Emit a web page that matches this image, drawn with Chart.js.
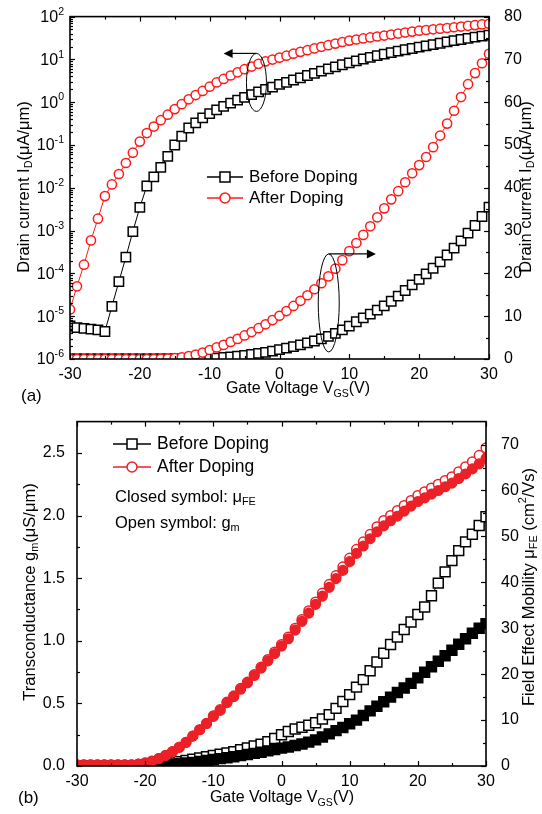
<!DOCTYPE html>
<html>
<head>
<meta charset="utf-8">
<script src="https://cdn.jsdelivr.net/npm/chart.js@4/dist/chart.umd.min.js"></script>
<style>
  body { margin: 0; background: #fff; overflow: hidden; }
  #wrap { position: relative; width: 542px; height: 814px; }
  .box { position: absolute; left: 0; width: 542px; }
</style>
</head>
<body>
<div id="wrap">
  <div class="box" style="top:0;height:405px"><canvas id="chartA"></canvas></div>
  <div class="box" style="top:405px;height:409px"><canvas id="chartB"></canvas></div>
</div>
<script>
// ── DATA ──
const volts = [-30,-29,-28,-27,-26,-25,-24,-23,-22,-21,-20,-19,-18,-17,-16,-15,-14,-13,-12,-11,-10,
  -9,-8,-7,-6,-5,-4,-3,-2,-1,0,1,2,3,4,5,6,7,8,9,10,11,12,13,14,15,16,17,18,19,20,
  21,22,23,24,25,26,27,28,29,30];

// (a) drain current, log scale (µA/µm)
const beforeLog = [5.9e-6,5.4e-6,5.2e-6,5.0e-6,4.8e-6,4.4e-6,1.7e-5,6.4e-5,2.4e-4,9.5e-4,3.5e-3,
  0.011,0.018,0.03,0.054,0.1,0.16,0.25,0.33,0.43,0.54,
  0.66,0.8,0.95,1.12,1.3,1.5,1.75,2.0,2.25,2.6,
  2.9,3.3,3.7,4.2,4.7,5.3,6.0,6.7,7.5,8.3,
  9.2,10.2,11.2,12.2,13.3,14.4,15.6,16.8,18.0,19.3,
  20.7,22.2,23.8,25.6,27.4,29.2,31.0,33.0,35.0,37.0];
const afterLog = [1.44e-5,5e-5,1.6e-4,5.9e-4,1.9e-3,6.4e-3,0.012,0.021,0.038,0.066,0.12,
  0.19,0.27,0.38,0.51,0.69,0.9,1.17,1.47,1.83,2.3,
  2.9,3.5,4.2,5.0,5.9,6.8,7.9,9.0,9.9,11.0,
  12.2,13.6,15.0,16.4,18.0,19.7,21.5,23.4,25.5,27.5,
  29.2,30.9,32.6,34.3,36.0,38.1,40.2,42.4,44.6,46.8,
  48.6,50.4,52.2,54.2,56.4,58.6,60.9,63.3,65.6,68.0];
// (a) drain current, linear scale (µA/µm)
const beforeLin = [0,0,0,0,0,0,0,0,0,0,0,
  0,0,0,0,0,0,0,0,0.05,0.1,
  0.2,0.35,0.5,0.65,0.85,1.05,1.3,1.55,1.85,2.2,
  2.55,2.9,3.3,3.75,4.2,4.7,5.3,6.0,6.8,7.7,
  8.7,9.6,10.5,11.4,12.4,13.5,14.7,16.0,17.3,18.6,
  19.9,21.2,22.7,24.3,25.9,27.6,29.4,31.2,33.3,35.5];
const afterLin = [0,0,0,0,0,0,0,0,0,0,0,
  0,0,0.05,0.1,0.2,0.4,0.7,1.05,1.5,2.1,
  2.7,3.3,4.0,4.7,5.5,6.3,7.2,8.1,9.1,10.1,
  11.2,12.4,13.6,14.9,16.3,17.7,19.3,21.1,23.1,25.2,
  27.1,29.0,31.0,33.1,35.2,37.3,39.2,41.3,43.4,45.3,
  47.2,49.5,52.2,55.0,58.0,61.2,64.2,66.8,69.1,71.3];

// (b) transconductance gm (µS/µm), open symbols
const beforeGm = [0,0,0,0,0,0,0,0,0,0,0,
  0.003,0.008,0.015,0.025,0.035,0.045,0.055,0.065,0.075,0.085,
  0.095,0.105,0.115,0.13,0.145,0.16,0.175,0.195,0.22,0.25,
  0.275,0.295,0.31,0.325,0.345,0.375,0.41,0.46,0.515,0.57,
  0.63,0.69,0.76,0.83,0.90,0.97,1.03,1.09,1.15,1.21,
  1.27,1.36,1.46,1.55,1.64,1.72,1.79,1.85,1.92,1.99];
const afterGm = [0.01,0.01,0.01,0.01,0.01,0.01,0.01,0.01,0.01,0.015,0.025,
  0.04,0.06,0.085,0.115,0.15,0.19,0.24,0.29,0.34,0.40,
  0.45,0.51,0.56,0.62,0.67,0.73,0.79,0.85,0.91,0.97,
  1.03,1.10,1.17,1.24,1.31,1.38,1.45,1.52,1.59,1.66,
  1.73,1.79,1.85,1.91,1.96,2.00,2.04,2.08,2.12,2.16,
  2.19,2.22,2.25,2.28,2.31,2.35,2.39,2.43,2.48,2.54];
// (b) field effect mobility µFE (cm²/Vs), closed symbols
const beforeMu = [0,0,0,0,0,0,0,0,0,0,0,
  0,0.05,0.2,0.35,0.5,0.65,0.8,1.0,1.2,1.4,
  1.6,1.8,2.0,2.25,2.5,2.75,3.0,3.3,3.6,3.9,
  4.15,4.45,4.8,5.2,5.7,6.3,7.0,7.7,8.4,9.2,
  10.0,11.0,12.0,13.0,14.0,15.0,16.0,17.0,18.0,19.2,
  20.4,21.6,22.8,24.0,25.2,26.5,27.7,28.9,30.0,31.0];
const afterMu = [0.25,0.25,0.25,0.25,0.25,0.25,0.25,0.25,0.25,0.4,0.65,
  1.05,1.6,2.3,3.1,4.05,5.15,6.5,7.9,9.25,10.8,
  12.1,13.8,15.1,16.7,18.1,19.7,21.3,22.9,24.5,26.1,
  27.7,29.6,31.5,33.3,35.2,37.0,38.9,40.8,42.6,44.5,
  46.3,47.9,49.5,51.0,52.3,53.4,54.4,55.5,56.6,57.6,
  58.4,59.2,60.0,60.8,61.6,62.6,63.6,64.7,65.8,67.0];

// tick values
const xMajor = [-30,-20,-10,0,10,20,30];
const xMinor = [-25,-15,-5,5,15,25];
const logExps = [-6,-5,-4,-3,-2,-1,0,1,2];
const linAMajor = [0,10,20,30,40,50,60,70,80];
const linAMinor = [5,15,25,35,45,55,65,75];
const gmMajor = [0,0.5,1.0,1.5,2.0,2.5];
const gmMinor = [0.25,0.75,1.25,1.75,2.25];
const muMajor = [0,10,20,30,40,50,60,70];
const muMinor = [5,15,25,35,45,55,65];

const FONT = '"Liberation Sans", Arial, Helvetica, sans-serif';
const RED_A = '#ff1a1a';
const RED_B = '#ec2027';

const pts = arr => arr.map((v, i) => ({ x: volts[i], y: v }));

// ── DRAWING HELPERS ──
// parts: [text, kind]  kind 0 normal, 1 subscript, 2 superscript
function rich(ctx, parts, x, y, size, rotate, align) {
  const small = size * 0.66;
  ctx.save();
  ctx.translate(x, y);
  if (rotate) ctx.rotate(-Math.PI / 2);
  ctx.fillStyle = '#000';
  ctx.textBaseline = 'middle';
  ctx.textAlign = 'left';
  let w = 0;
  parts.forEach(p => { ctx.font = (p[1] ? small : size) + 'px ' + FONT; w += ctx.measureText(p[0]).width; });
  let cx = align === 'left' ? 0 : align === 'right' ? -w : -w / 2;
  parts.forEach(p => {
    ctx.font = (p[1] ? small : size) + 'px ' + FONT;
    const dy = p[1] === 1 ? size * 0.33 : p[1] === 2 ? -size * 0.36 : 0;
    ctx.fillText(p[0], cx, dy);
    cx += ctx.measureText(p[0]).width;
  });
  ctx.restore();
}

function marker(ctx, style, x, y, r, color, filled) {
  ctx.save();
  ctx.lineWidth = 1.5;
  ctx.strokeStyle = color;
  ctx.fillStyle = filled ? color : '#fff';
  ctx.beginPath();
  if (style === 'rect') ctx.rect(x - r, y - r, 2 * r, 2 * r);
  else ctx.arc(x, y, r, 0, Math.PI * 2);
  ctx.fill();
  ctx.stroke();
  ctx.restore();
}

function legendRow(ctx, y, x0, x1, style, r, color, label, size) {
  ctx.save();
  ctx.strokeStyle = color;
  ctx.lineWidth = 1.3;
  ctx.beginPath(); ctx.moveTo(x0, y); ctx.lineTo(x1, y); ctx.stroke();
  ctx.restore();
  marker(ctx, style, (x0 + x1) / 2, y, r, color, false);
  rich(ctx, [[label, 0]], x1 + 6, y, size, false, 'left');
}

// inward tick marks + frame
function frameAndTicks(chart, spec) {
  const { ctx, chartArea: a } = chart;
  const sx = chart.scales.x;
  ctx.save();
  ctx.strokeStyle = '#000';
  ctx.lineWidth = 1.2;
  const tick = (scale, vals, len, side) => vals.forEach(v => {
    const p = Math.round(scale.getPixelForValue(v)) + 0.5;
    ctx.beginPath();
    if (side === 'bottom') { ctx.moveTo(p, a.bottom); ctx.lineTo(p, a.bottom - len); }
    if (side === 'top') { ctx.moveTo(p, a.top); ctx.lineTo(p, a.top + len); }
    if (side === 'left') { ctx.moveTo(a.left, p); ctx.lineTo(a.left + len, p); }
    if (side === 'right') { ctx.moveTo(a.right, p); ctx.lineTo(a.right - len, p); }
    ctx.stroke();
  });
  tick(sx, xMajor, 5, 'bottom'); tick(sx, xMinor, 3, 'bottom');
  tick(sx, xMajor, 5, 'top'); tick(sx, xMinor, 3, 'top');
  tick(chart.scales.yL, spec.lMajor, 5, 'left'); tick(chart.scales.yL, spec.lMinor, 3, 'left');
  tick(chart.scales.yR, spec.rMajor, 5, 'right'); tick(chart.scales.yR, spec.rMinor, 3, 'right');
  ctx.lineWidth = 1.6;
  ctx.strokeRect(a.left, a.top, a.right - a.left, a.bottom - a.top);
  ctx.restore();
}

function arrow(ctx, x0, y, x1) {
  const dir = x1 > x0 ? 1 : -1;
  ctx.save();
  ctx.strokeStyle = '#000'; ctx.fillStyle = '#000'; ctx.lineWidth = 1.2;
  ctx.beginPath(); ctx.moveTo(x0, y); ctx.lineTo(x1 - dir * 7, y); ctx.stroke();
  ctx.beginPath();
  ctx.moveTo(x1, y); ctx.lineTo(x1 - dir * 9, y - 4.5); ctx.lineTo(x1 - dir * 9, y + 4.5);
  ctx.closePath(); ctx.fill();
  ctx.restore();
}

function ellipse(ctx, cx, cy, rx, ry) {
  ctx.save();
  ctx.strokeStyle = '#000'; ctx.lineWidth = 1;
  ctx.beginPath(); ctx.ellipse(cx, cy, rx, ry, 0, 0, Math.PI * 2); ctx.stroke();
  ctx.restore();
}

function series(label, data, axis, color, style, r, filled) {
  return {
    label, data: pts(data), yAxisID: axis,
    borderColor: color, borderWidth: 1, pointStyle: style,
    pointRadius: r, pointBorderWidth: 1.5, pointBorderColor: color,
    pointBackgroundColor: filled ? color : '#fff',
    showLine: true, tension: 0, clip: 0
  };
}

const baseTicks = { color: '#000', font: { size: 16, family: FONT } };

// ── CHART (a) ──
const plugA = {
  id: 'plugA',
  afterDatasetsDraw(chart) {
    const ctx = chart.ctx, sx = chart.scales.x, yL = chart.scales.yL, yR = chart.scales.yR;
    frameAndTicks(chart, {
      lMajor: logExps.map(e => Math.pow(10, e)),
      lMinor: logExps.slice(0, -1).flatMap(e => [2,3,4,5,6,7,8,9].map(k => k * Math.pow(10, e))),
      rMajor: linAMajor, rMinor: linAMinor
    });
    // log tick labels 10^n
    logExps.forEach(e => {
      rich(ctx, [['10', 0], [String(e), 2]], 64, yL.getPixelForValue(Math.pow(10, e)) + 1, 16, false, 'right');
    });
    // axis titles
    const title = [['Drain current I', 0], ['D', 1], ['(\u03bcA/\u03bcm)', 0]];
    rich(ctx, title, 24, 187, 16.5, true);
    rich(ctx, title, 526, 187, 16.5, true);
    rich(ctx, [['Gate Voltage V', 0], ['GS', 1], ['(V)', 0]], 298, 389, 16);
    rich(ctx, [['(a)', 0]], 21, 396, 17, false, 'left');
    // legend
    legendRow(ctx, 177, 207, 243, 'rect', 5, '#000', 'Before Doping', 17);
    legendRow(ctx, 198, 207, 243, 'circle', 5, RED_A, 'After Doping', 17);
    // ellipses and arrows
    const e1x = sx.getPixelForValue(-3.3), e1y = yL.getPixelForValue(2.9);
    ellipse(ctx, e1x, e1y, 10, 29);
    arrow(ctx, e1x, e1y - 29, sx.getPixelForValue(-8));
    const e2x = sx.getPixelForValue(7.05), e2y = yR.getPixelForValue(13.1);
    ellipse(ctx, e2x, e2y, 10.5, 49);
    arrow(ctx, e2x, e2y - 49, sx.getPixelForValue(13.8));
  }
};

new Chart(document.getElementById('chartA'), {
  type: 'line',
  data: {
    datasets: [
      series('After Doping', afterLog, 'yL', RED_A, 'circle', 4.6, false),
      series('After Doping lin', afterLin, 'yR', RED_A, 'circle', 4.6, false),
      series('Before Doping', beforeLog, 'yL', '#000', 'rect', 6.6, false),
      series('Before Doping lin', beforeLin, 'yR', '#000', 'rect', 6.6, false)
    ]
  },
  options: {
    responsive: true, maintainAspectRatio: false, animation: false,
    layout: { padding: { top: 15, left: 0, right: 0, bottom: 0 } },
    plugins: { legend: { display: false }, tooltip: { enabled: false } },
    scales: {
      x: {
        type: 'linear', min: -30, max: 30,
        afterBuildTicks: s => { s.ticks = xMajor.map(v => ({ value: v })); },
        afterFit: s => { s.height = 46; },
        ticks: { ...baseTicks, padding: -2, maxRotation: 0 },
        grid: { display: false }, border: { display: false }
      },
      yL: {
        type: 'logarithmic', position: 'left', min: 1e-6, max: 1e2,
        afterBuildTicks: s => { s.ticks = logExps.map(e => ({ value: Math.pow(10, e) })); },
        afterFit: s => { s.width = 70; },
        ticks: { ...baseTicks, callback: () => '' },
        grid: { display: false }, border: { display: false }
      },
      yR: {
        type: 'linear', position: 'right', min: 0, max: 80,
        afterBuildTicks: s => { s.ticks = linAMajor.map(v => ({ value: v })); },
        afterFit: s => { s.width = 53; },
        ticks: { ...baseTicks, padding: 7 },
        grid: { display: false }, border: { display: false }
      }
    }
  },
  plugins: [plugA]
});

// ── CHART (b) ──
const plugB = {
  id: 'plugB',
  afterDatasetsDraw(chart) {
    const ctx = chart.ctx;
    frameAndTicks(chart, { lMajor: gmMajor, lMinor: gmMinor, rMajor: muMajor, rMinor: muMinor });
    rich(ctx, [['Transconductance g', 0], ['m', 1], ['(\u03bcS/\u03bcm)', 0]], 30, 187, 16.5, true);
    rich(ctx, [['Field Effect Mobility \u03bc', 0], ['FE', 1], [' (cm', 0], ['2', 2], ['/Vs)', 0]], 529, 182, 16.5, true);
    rich(ctx, [['Gate Voltage V', 0], ['GS', 1], ['(V)', 0]], 282, 393, 16);
    rich(ctx, [['(b)', 0]], 18, 393, 17, false, 'left');
    legendRow(ctx, 39, 113, 151, 'rect', 5, '#000', 'Before Doping', 17.5);
    legendRow(ctx, 62, 113, 151, 'circle', 5, RED_B, 'After Doping', 17.5);
    rich(ctx, [['Closed symbol: \u03bc', 0], ['FE', 1]], 115, 92, 16.5, false, 'left');
    rich(ctx, [['Open symbol: g', 0], ['m', 1]], 115, 118, 16.5, false, 'left');
  }
};

new Chart(document.getElementById('chartB'), {
  type: 'line',
  data: {
    datasets: [
      series('After Doping \u03bcFE', afterMu, 'yR', RED_B, 'circle', 4.8, true),
      series('After Doping gm', afterGm, 'yL', RED_B, 'circle', 4.8, false),
      series('Before Doping \u03bcFE', beforeMu, 'yR', '#000', 'rect', 7, true),
      series('Before Doping gm', beforeGm, 'yL', '#000', 'rect', 7, false)
    ]
  },
  options: {
    responsive: true, maintainAspectRatio: false, animation: false,
    layout: { padding: { top: 13, left: 0, right: 0, bottom: 0 } },
    plugins: { legend: { display: false }, tooltip: { enabled: false } },
    scales: {
      x: {
        type: 'linear', min: -30, max: 30,
        afterBuildTicks: s => { s.ticks = xMajor.map(v => ({ value: v })); },
        afterFit: s => { s.height = 48; },
        ticks: { ...baseTicks, padding: -2, maxRotation: 0 },
        grid: { display: false }, border: { display: false }
      },
      yL: {
        type: 'linear', position: 'left', min: 0, max: 2.75,
        afterBuildTicks: s => { s.ticks = gmMajor.map(v => ({ value: v })); },
        afterFit: s => { s.width = 77; },
        ticks: { ...baseTicks, padding: 4, callback: v => v.toFixed(1) },
        grid: { display: false }, border: { display: false }
      },
      yR: {
        type: 'linear', position: 'right', min: 0, max: 75,
        afterBuildTicks: s => { s.ticks = muMajor.map(v => ({ value: v })); },
        afterFit: s => { s.width = 56; },
        ticks: { ...baseTicks, padding: 7 },
        grid: { display: false }, border: { display: false }
      }
    }
  },
  plugins: [plugB]
});
</script>
</body>
</html>
